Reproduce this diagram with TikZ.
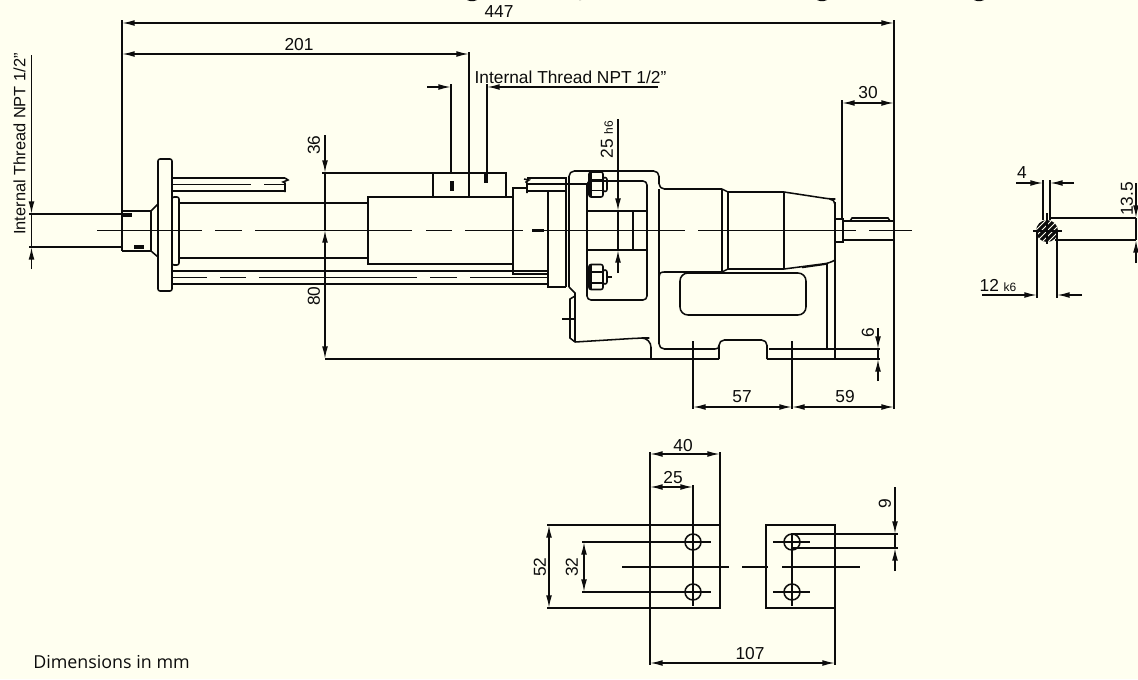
\documentclass[tikz,border=0pt]{standalone}
\usepackage{fontspec}
\setmainfont{Liberation Sans}
\newfontfamily\notefont{Open Sans}
\usetikzlibrary{arrows.meta}
\definecolor{paper}{HTML}{FFFFF0}
\definecolor{ink}{HTML}{0C0C0C}
\tikzset{
  part/.style={draw=ink,line width=1.15pt},
  thicktick/.style={draw=ink,line width=2.6pt},
  dimline/.style={draw=ink,line width=1.15pt},
  dimtext/.style={inner sep=0pt,text=ink,font=\fontsize{13}{15}\selectfont},
}
\newcommand{\BoltHead}[1]{
  \begin{scope}[shift={(0,#1)}]
    \draw[part,rounded corners=1.5pt] (589,-12.5) rectangle (603,12.5);
    \draw[part] (591,-12.5) -- (591,12.5) (589,-5) -- (603,-5) (589,6) -- (603,6);
    \draw[part,rounded corners=1.5pt] (603,-7) rectangle (607,7);
  \end{scope}
}
\newcommand{\BoltHole}[2]{
  \draw[part] (#1,#2) circle (8);
  \draw[part] (#1-19,#2) -- (#1+18,#2);
}
\begin{document}
\begin{tikzpicture}[x=0.75pt,y=-0.75pt,>={Latex[length=9.5pt,width=4.4pt]}]

  \fill[paper] (0,0) rectangle (1138,679);
  \useasboundingbox (0,0) rectangle (1138,679);

  \foreach \xa/\xb in {467/477,579/581,817/827,974/984}
    \fill[ink] (\xa,0) -- (\xb,0) to[bend left=25] (\xa,0);

  \foreach \xa/\xb in {97/202,215/242,255/412,426/452,465/523,532/685,698/856,869/912}
    \draw[part] (\xa,230.5) -- (\xb,230.5);
  \draw[thicktick,line width=1.7pt] (532,230.5) -- (544,230.5);

  \draw[part] (122,211) -- (151,211) -- (151,251) -- (122,251);
  \draw[part] (151,211) -- (158,204) (151,251) -- (158,257);
  \draw[part,rounded corners=1.5pt] (158,159) rectangle (172,291);
  \draw[part,rounded corners=1.5pt] (172,197) rectangle (179,265);
  \draw[thicktick] (122,215) -- (132,215) (134,247) -- (144,247);

  \draw[part] (172,178) -- (285,178) (172,191) -- (285,191);
  \foreach \xa/\xb in {172/251,264/285}
    \draw[part] (\xa,184.5) -- (\xb,184.5);
  \draw[part] (285,178) -- (288,180) -- (283,182) -- (285,183) -- (285,192);

  \draw[part] (179,203) -- (368,203) (179,258) -- (368,258);
  \draw[part] (172,271) -- (548,271) (172,284) -- (548,284);
  \foreach \xa/\xb in {172/207,220/246,259/417,430/457,470/548}
    \draw[part] (\xa,277.5) -- (\xb,277.5);

  \draw[part] (368,197) rectangle (513,264);
  \draw[part] (433,197) -- (433,173) -- (506,173) -- (506,197);
  \draw[part] (469,173) -- (469,197);
  \draw[thicktick] (452,181) -- (452,191) (486,173) -- (486,183);

  \draw[part] (527,188) -- (513,188) -- (513,274) -- (548,274);
  \draw[part] (527,178) -- (567,178) (527,184) -- (589,184) (527,191) -- (567,191);
  \draw[part] (524,179) -- (529,180) -- (526,182) -- (527,183) -- (527,193);
  \draw[part] (548,191) -- (548,287) -- (566,287);
  \draw[part,line width=1.4pt] (566,178) -- (566,287);

  \draw[part,rounded corners=4pt] (569,287) -- (569,171) -- (659,171) -- (659,189) -- (722,189);
  \draw[part,rounded corners=4pt] (659,189) -- (659,349) -- (715,349);
  \draw[part] (569,287) -- (575,293) -- (575,342);
  \draw[part,rounded corners=7pt] (575,342) -- (640,338) -- (651,338) -- (651,359);
  \draw[part] (575,296) -- (570,299) -- (570,338) -- (575,342);
  \draw[part] (562,319) -- (575,319);

  \draw[part,rounded corners=3pt] (587,181) rectangle (647,300);
  \draw[part] (587,211) -- (647,211) (587,250) -- (647,250);
  \draw[part,line width=1.7pt] (633,211) -- (633,250);
  \BoltHead{184.5}
  \BoltHead{277}
  \draw[part] (607,277) -- (612,277);

  \draw[part] (722,189) -- (728,192) -- (784,192);
  \draw[part,rounded corners=4pt] (784,192) -- (830,199) -- (835,199) -- (835,240);
  \draw[part] (835,202) -- (835,359);
  \draw[part] (659,277) .. controls (659,274) and (660,272) .. (664,272) -- (722,272);
  \draw[part] (722,272) -- (728,269) -- (784,269);
  \draw[part,rounded corners=4pt] (784,269) -- (830,263) -- (835,260);
  \draw[part] (722,189) -- (722,272) (728,192) -- (728,269) (784,192) -- (784,269);
  \draw[part,rounded corners=6pt] (680,273) rectangle (806,315);
  \draw[part] (802,267.5) -- (827,264) -- (827,348);

  \draw[part] (325,359) -- (719,359);
  \draw[part,rounded corners=4pt] (719,359) -- (719,340) -- (767,340) -- (767,359);
  \draw[part] (715,349) .. controls (718,349) and (719,348) .. (719,345);
  \draw[part] (769,349) -- (880,349) (767,359) -- (880,359);

  \draw[part] (835,219) rectangle (843,242);
  \draw[part] (843,221) -- (894,221) (843,240) -- (894,240);
  \draw[part] (850,221) -- (852,218) -- (888,218) -- (890,221);

  \draw[part] (122,20) -- (122,251) (894,20) -- (894,409);
  \draw[part] (469,52) -- (469,197);
  \draw[part] (451,84) -- (451,173) (487,84) -- (487,173);
  \draw[part] (842,100) -- (842,219);
  \draw[part] (693,341) -- (693,409) (792,341) -- (792,409);
  \draw[part] (29,214) -- (122,214) (29,247) -- (122,247);
  \draw[part] (322,173) -- (433,173);

  \coordinate (w1) at (122,23);   \coordinate (w2) at (894,23);
  \coordinate (p1) at (122,54);   \coordinate (p2) at (469,54);
  \coordinate (s1) at (842,103);  \coordinate (s2) at (894,103);
  \coordinate (f1) at (693,407);  \coordinate (f2) at (792,407);
  \coordinate (f3) at (894,407);
  \draw[dimline,<->] (w1) -- (w2);
  \draw[dimline,<->] (p1) -- (p2);
  \draw[dimline,<->] (s1) -- (s2);
  \draw[dimline,<->] (f1) -- (f2);
  \draw[dimline,<->] (f2) -- (f3);

  \coordinate (ta) at (427,87);   \coordinate (tb) at (451,87);
  \coordinate (tc) at (487,87);   \coordinate (td) at (658,87);
  \draw[dimline,->] (ta) -- (tb);
  \draw[dimline,->] (td) -- (tc);

  \coordinate (la) at (31.5,55);  \coordinate (lb) at (31.5,214);
  \coordinate (lc) at (31.5,247); \coordinate (ld) at (31.5,269);
  \draw[dimline,->] (la) -- (lb);
  \draw[dimline] (lb) -- (lc);
  \draw[dimline,->] (ld) -- (lc);

  \coordinate (ha) at (325,135);  \coordinate (hb) at (325,173);
  \coordinate (hc) at (325,230);  \coordinate (hd) at (325,359);
  \draw[dimline,->] (ha) -- (hb);
  \draw[dimline] (hb) -- (hc);
  \draw[dimline,<->] (hc) -- (hd);

  \coordinate (ga) at (618,119);  \coordinate (gb) at (618,211);
  \coordinate (gc) at (618,250);  \coordinate (gd) at (618,273);
  \draw[dimline,->] (ga) -- (gb);
  \draw[dimline] (gb) -- (gc);
  \draw[dimline,->] (gd) -- (gc);

  \coordinate (sa) at (878,328);  \coordinate (sb) at (878,349);
  \coordinate (sc) at (878,359);  \coordinate (sd) at (878,381);
  \draw[dimline,->] (sa) -- (sb);
  \draw[dimline] (sb) -- (sc);
  \draw[dimline,->] (sd) -- (sc);

  \draw[part] (650,525) rectangle (720,608);
  \draw[part] (766,525) rectangle (835,608);
  \foreach \xa/\xb in {622/729,742/768,782/860}
    \draw[part] (\xa,567) -- (\xb,567);
  \BoltHole{693}{542}
  \BoltHole{693}{592}
  \BoltHole{792}{542}
  \BoltHole{792}{592}
  \draw[part] (693,485) -- (693,606) (792,533) -- (792,606);
  \draw[part] (650,452) -- (650,665) (720,452) -- (720,525) (835,608) -- (835,665);
  \draw[part] (547,525) -- (650,525) (547,608) -- (650,608);
  \draw[part] (582,542) -- (674,542) (582,592) -- (674,592);
  \draw[part] (792,534) -- (898,534) (792,548) -- (898,548);

  \coordinate (ma) at (650,454);  \coordinate (mb) at (720,454);
  \coordinate (mc) at (650,487);  \coordinate (md) at (693,487);
  \coordinate (me) at (650,663);  \coordinate (mf) at (835,663);
  \coordinate (mg) at (549,525);  \coordinate (mh) at (549,608);
  \coordinate (mi) at (584,542);  \coordinate (mj) at (584,592);
  \draw[dimline,<->] (ma) -- (mb);
  \draw[dimline,<->] (mc) -- (md);
  \draw[dimline,<->] (me) -- (mf);
  \draw[dimline,<->] (mg) -- (mh);
  \draw[dimline,<->] (mi) -- (mj);

  \coordinate (na) at (895,487);  \coordinate (nb) at (895,534);
  \coordinate (nc) at (895,548);  \coordinate (nd) at (895,571);
  \draw[dimline,->] (na) -- (nb);
  \draw[dimline] (nb) -- (nc);
  \draw[dimline,->] (nd) -- (nc);

  \fill[ink] (1047,231) circle (11);
  \begin{scope}
    \clip (1047,231) circle (11);
    \foreach \off in {-12,-6,0,6,12}
      \draw[paper,line width=0.7pt] (1047+\off-12,243) -- (1047+\off+12,219);
  \end{scope}
  \draw[part] (1033,231) -- (1062,231) (1047,213) -- (1047,244);
  \draw[part] (1043,180) -- (1043,220) (1050,180) -- (1050,220);
  \draw[part] (1037,231) -- (1037,298) (1057,231) -- (1057,298);
  \draw[part] (1050,218) -- (1136,218) (1055,240) -- (1136,240);

  \coordinate (ka) at (1016,183);  \coordinate (kb) at (1043,183);
  \coordinate (kc) at (1050,183);  \coordinate (kd) at (1074,183);
  \coordinate (kf) at (982,295);   \coordinate (kg) at (1037,295);
  \coordinate (kh) at (1057,295);  \coordinate (ki) at (1082,295);
  \coordinate (kj) at (1136,183);  \coordinate (kk) at (1136,218);
  \coordinate (kl) at (1136,240);  \coordinate (km) at (1136,263);
  \draw[dimline,->] (ka) -- (kb);
  \draw[dimline,->] (kd) -- (kc);
  \draw[dimline,->] (kf) -- (kg);
  \draw[dimline,->] (ki) -- (kh);
  \draw[dimline,->] (kj) -- (kk);
  \draw[dimline] (kk) -- (kl);
  \draw[dimline,->] (km) -- (kl);

  \draw(499,12) node[dimtext] (t447) {447};
  \draw(299,45) node[dimtext] (t201) {201};
  \draw(570.5,77) node[dimtext] (tnptb) {Internal Thread NPT 1/2\symbol{34}};
  \draw(19.5,144) node[dimtext,rotate=90,font=\fontsize{12.3}{14}\selectfont] (tnpta) {Internal Thread NPT 1/2\symbol{34}};
  \draw(314,145) node[dimtext,rotate=90] (t36) {36};
  \draw(314,296) node[dimtext,rotate=90] (t80) {80};
  \draw(607,139.5) node[dimtext,rotate=90] (t25) {25 {\fontsize{9}{10}\selectfont h6}};
  \draw(868,93) node[dimtext] (t30) {30};
  \draw(868,333) node[dimtext,rotate=90] (t6) {6};
  \draw(742,397) node[dimtext] (t57) {57};
  \draw(845,397) node[dimtext] (t59) {59};
  \draw(683,446) node[dimtext] (t40) {40};
  \draw(673,478) node[dimtext] (t25b) {25};
  \draw(540,567) node[dimtext,rotate=90] (t52) {52};
  \draw(572,567) node[dimtext,rotate=90] (t32) {32};
  \draw(750,654) node[dimtext] (t107) {107};
  \draw(885,504) node[dimtext,rotate=90] (t9) {9};
  \draw(1022,173) node[dimtext] (t4) {4};
  \draw(998,285) node[dimtext] (t12) {12 {\fontsize{9}{10}\selectfont k6}};
  \draw(1127,199) node[dimtext,rotate=90] (t135) {13.5};
  \draw(111.5,662) node[inner sep=0pt,text=ink,font=\notefont\fontsize{13.4}{15}\selectfont] (tnote) {Dimensions in mm};

\end{tikzpicture}
\end{document}
